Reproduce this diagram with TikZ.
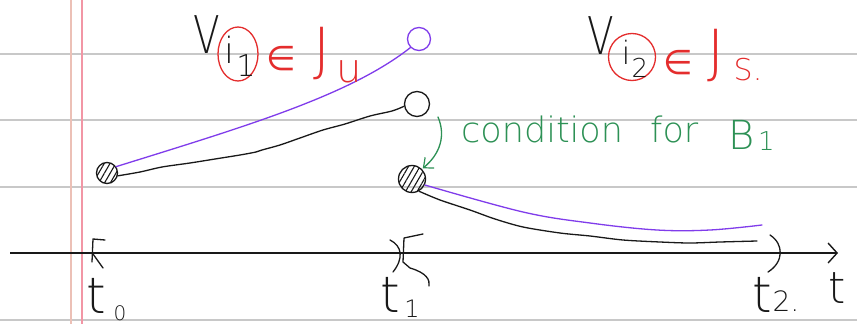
\documentclass[tikz,border=0pt]{standalone}
\usepackage{fontspec}
\newfontfamily\handfont{DejaVuSans-ExtraLight.ttf}
\newfontfamily\symfont{DejaVu Sans}
\usetikzlibrary{shapes.geometric,patterns.meta,arrows.meta}
\definecolor{rulegray}{RGB}{200,200,200}
\definecolor{marginA}{RGB}{236,192,182}
\definecolor{marginB}{RGB}{242,150,165}
\definecolor{pen}{RGB}{25,25,25}
\definecolor{violetpen}{RGB}{128,60,235}
\definecolor{redpen}{RGB}{228,45,45}
\definecolor{greenpen}{RGB}{45,145,85}
\tikzset{
  ink/.style={line width=1.3pt, line cap=round, line join=round},
  hatchdot/.style={circle, draw=pen, line width=1.3pt, inner sep=0pt,
    pattern={Lines[angle=60,distance=5pt,line width=1.1pt]}, pattern color=pen},
  opendot/.style={circle, draw=pen, line width=1.3pt, inner sep=0pt},
  violetdot/.style={circle, draw=violetpen, line width=1.3pt, inner sep=0pt},
  hand/.style={inner sep=0pt, font=\handfont\fontsize{#1}{#1}\selectfont},
  redhand/.style={hand=#1, text=redpen},
  greenhand/.style={hand=#1, text=greenpen},
  redsym/.style={inner sep=0pt, text=redpen, font=\symfont\fontsize{#1}{#1}\selectfont},
  ruleline/.style={draw=rulegray, line width=1.6pt},
}
\begin{document}
\begin{tikzpicture}[x=1pt,y=-1pt]
\useasboundingbox (0,0) rectangle (857,324);
\fill[white] (0,0) rectangle (857,324);
% ruled paper
\foreach \yy in {54,120,187,320} \draw[ruleline] (0,\yy) -- (857,\yy);
\draw[marginA, line width=1.4pt] (71,0) -- (71,324);
\draw[marginB, line width=1.4pt] (82,0) -- (82,324);

% time axis
\coordinate (ax0) at (10,253);
\coordinate (ax1) at (838,253);
\draw[pen, line width=1.6pt, -{Straight Barb[length=9pt,width=20pt,line width=1.4pt]}] (ax0) -- (ax1);
\node[hand=44, text=pen] (tlab) at (837,288) {t};

% brackets on the axis
\draw[pen, ink] (105,240) -- (93,239) -- (92,262);
\draw[pen, ink] (93,254) -- (103,268);
\draw[pen, ink] (390,240) .. controls (402,246) and (404,258) .. (393,272);
\draw[pen, ink] (423,234) -- (404,238) -- (403,262) -- (410,268) .. controls (427,273) and (430,280) .. (429,286);
\draw[pen, ink] (770,235) .. controls (784,244) and (784,262) .. (768,272);

% time labels
\node[hand=50, text=pen] (t0) at (96,296) {t};
\node[hand=20, text=pen] (t0s) at (120,313) {0};
\node[hand=50, text=pen] (t1) at (390,295) {t};
\node[hand=24, text=pen] (t1s) at (412,309) {1};
\node[hand=50, text=pen] (t2) at (762,295) {t};
\node[hand=28, text=pen] (t2s) at (786,301) {2.};

% endpoints
\node[hatchdot, minimum size=21pt] (h1) at (107,173) {};
\node[opendot, minimum size=25pt] (o1) at (417,104) {};
\node[violetdot, minimum size=23pt] (p1) at (419,39) {};
\node[hatchdot, minimum size=27pt] (h2) at (412,179) {};

% first interval curves
\draw[violetpen, ink] (h1.35) .. controls (250,125) and (350,95) .. (p1.225);
\draw[pen, ink] plot[smooth, tension=0.5] coordinates {(h1.-15) (140,172) (162,167) (190,163) (215,159) (240,155) (256,152) (262,150) (280,145) (300,138) (323,130) (345,124) (370,116) (392,111) (o1.190)};

% second interval curves
\draw[violetpen, ink] plot[smooth, tension=0.6] coordinates {(h2.-25) (523,212) (590,223) (657,230) (710,230) (762,225)};
\draw[pen, ink] plot[smooth, tension=0.5] coordinates {(h2.-60) (440,200) (470,210) (495,219) (523,227) (560,233) (590,236) (623,240) (660,242) (690,243) (720,242) (757,241)};

% labels above
\node[hand=52, text=pen, xscale=0.75] (V1) at (207,35) {V};
\node[ellipse, draw=redpen, line width=1.3pt, minimum width=40pt, minimum height=54pt, inner sep=0pt] (c1) at (238,54) {};
\node[hand=36, text=pen] (i1) at (229,50) {i};
\node[hand=30, text=pen] (i1s) at (246,66) {1};
\node[redsym=34] (in1) at (281,59) {∈};
\node[redhand=58] (J1) at (322,54) {J};
\node[redhand=40] (u1) at (349,72) {u};

\node[hand=52, text=pen, xscale=0.75] (V2) at (601,36) {V};
\node[circle, draw=redpen, line width=1.3pt, minimum size=47pt, inner sep=0pt] (c2) at (632,57) {};
\node[hand=32, text=pen] (i2) at (626,52) {i};
\node[hand=26, text=pen] (i2s) at (640,68) {2};
\node[redsym=34] (in2) at (678,63) {∈};
\node[redhand=58] (J2) at (716,56) {J};
\node[redhand=30] (S2) at (748,70) {S.};

% green remark
\node[greenhand=35, anchor=base west] (cond) at (461,142) {condition};
\node[greenhand=35, anchor=base west] (for) at (650,142) {for};
\node[greenhand=40, anchor=base west] (B) at (728,149) {B};
\node[greenhand=26, anchor=base west] (Bs) at (758,150) {1};
\coordinate (g0) at (438,117);
\draw[greenpen, ink, -{Straight Barb[length=8pt,width=14pt,line width=1.2pt]}, shorten >=1pt]
  (g0) .. controls (446,136) and (440,154) .. (h2.45);
\end{tikzpicture}
\end{document}
